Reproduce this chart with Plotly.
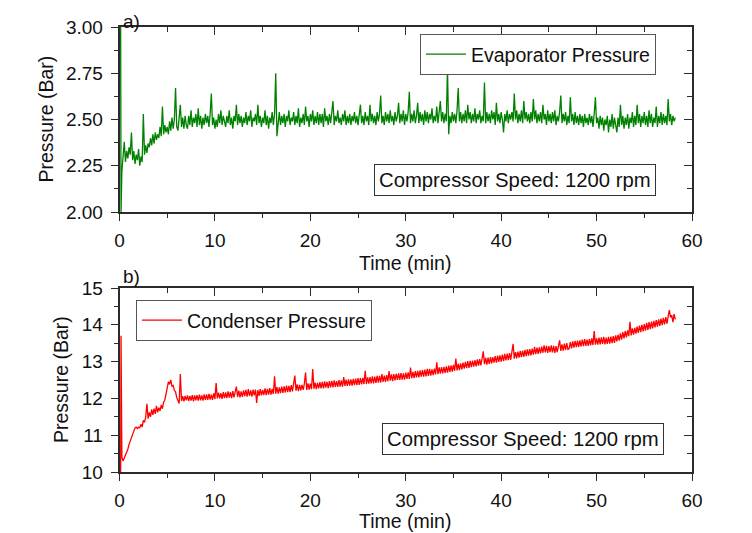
import plotly.graph_objects as go

W, H = 752, 533

# ---------------- data ----------------
sample_step = 0.125  # min, sampling interval of the logged data
start_time = [0.12, 0.16]
evap_start = [3.00, 2.00]
cond_start = [10.00, 13.70]

# Evaporator pressure (bar), t = 0.25 ... 58.25 min, 8 samples per minute (one row per minute)
evaporator_pressure = [
          2.22, 2.31, 2.38, 2.27, 2.33, 2.29, 2.35,
    2.31, 2.43, 2.28, 2.33, 2.26, 2.31, 2.28, 2.34,
    2.25, 2.30, 2.27, 2.53, 2.31, 2.36, 2.32, 2.37,
    2.35, 2.40, 2.36, 2.42, 2.37, 2.43, 2.39, 2.42,
    2.40, 2.46, 2.41, 2.57, 2.42, 2.47, 2.43, 2.46,
    2.42, 2.49, 2.44, 2.51, 2.45, 2.50, 2.67, 2.46,
    2.44, 2.50, 2.58, 2.46, 2.51, 2.45, 2.52, 2.47,
    2.45, 2.52, 2.47, 2.55, 2.46, 2.51, 2.48, 2.53,
    2.46, 2.56, 2.47, 2.52, 2.45, 2.51, 2.47, 2.53,
    2.48, 2.52, 2.46, 2.53, 2.64, 2.47, 2.51, 2.45,
    2.50, 2.46, 2.53, 2.48, 2.55, 2.47, 2.52, 2.49,
    2.46, 2.52, 2.48, 2.55, 2.47, 2.51, 2.45, 2.52,
    2.49, 2.58, 2.47, 2.53, 2.48, 2.52, 2.46, 2.51,
    2.48, 2.54, 2.47, 2.52, 2.49, 2.55, 2.46, 2.51,
    2.49, 2.53, 2.47, 2.58, 2.48, 2.52, 2.46, 2.51,
    2.48, 2.55, 2.47, 2.52, 2.45, 2.51, 2.48, 2.54,
    2.47, 2.53, 2.75, 2.41, 2.50, 2.54, 2.47, 2.52,
    2.48, 2.53, 2.46, 2.52, 2.49, 2.55, 2.47, 2.51,
    2.49, 2.54, 2.47, 2.52, 2.48, 2.56, 2.46, 2.51,
    2.48, 2.53, 2.47, 2.57, 2.49, 2.52, 2.46, 2.53,
    2.49, 2.55, 2.47, 2.52, 2.48, 2.54, 2.47, 2.53,
    2.48, 2.53, 2.46, 2.56, 2.49, 2.52, 2.47, 2.53,
    2.48, 2.54, 2.60, 2.47, 2.52, 2.49, 2.55, 2.48,
    2.51, 2.47, 2.53, 2.49, 2.55, 2.47, 2.52, 2.48,
    2.53, 2.47, 2.52, 2.49, 2.54, 2.48, 2.52, 2.47,
    2.53, 2.58, 2.48, 2.52, 2.47, 2.54, 2.49, 2.52,
    2.47, 2.58, 2.49, 2.53, 2.48, 2.52, 2.47, 2.54,
    2.49, 2.53, 2.63, 2.48, 2.52, 2.47, 2.54, 2.49,
    2.53, 2.48, 2.55, 2.49, 2.52, 2.47, 2.54, 2.49,
    2.52, 2.59, 2.48, 2.53, 2.49, 2.55, 2.47, 2.53,
    2.49, 2.54, 2.65, 2.48, 2.53, 2.49, 2.55, 2.48,
    2.52, 2.59, 2.48, 2.54, 2.49, 2.53, 2.47, 2.55,
    2.49, 2.54, 2.48, 2.53, 2.50, 2.56, 2.48, 2.52,
    2.49, 2.57, 2.48, 2.53, 2.60, 2.49, 2.54, 2.48,
    2.53, 2.49, 2.78, 2.42, 2.52, 2.48, 2.54, 2.49,
    2.53, 2.48, 2.55, 2.67, 2.49, 2.54, 2.48, 2.53,
    2.49, 2.55, 2.48, 2.58, 2.50, 2.54, 2.48, 2.53,
    2.49, 2.56, 2.48, 2.53, 2.50, 2.55, 2.48, 2.52,
    2.49, 2.70, 2.48, 2.54, 2.49, 2.53, 2.48, 2.55,
    2.50, 2.54, 2.47, 2.59, 2.49, 2.53, 2.48, 2.54,
    2.50, 2.43, 2.53, 2.49, 2.55, 2.48, 2.53, 2.50,
    2.54, 2.49, 2.64, 2.50, 2.55, 2.48, 2.53, 2.49,
    2.55, 2.48, 2.60, 2.50, 2.54, 2.49, 2.53, 2.48,
    2.54, 2.49, 2.61, 2.50, 2.55, 2.48, 2.53, 2.49,
    2.54, 2.48, 2.58, 2.50, 2.53, 2.47, 2.55, 2.49,
    2.53, 2.48, 2.54, 2.49, 2.55, 2.47, 2.52, 2.49,
    2.54, 2.63, 2.48, 2.53, 2.49, 2.54, 2.47, 2.52,
    2.48, 2.62, 2.49, 2.53, 2.47, 2.54, 2.48, 2.52,
    2.47, 2.53, 2.48, 2.52, 2.46, 2.53, 2.48, 2.51,
    2.47, 2.53, 2.48, 2.52, 2.46, 2.53, 2.62, 2.48,
    2.51, 2.45, 2.52, 2.47, 2.51, 2.44, 2.50, 2.47,
    2.52, 2.43, 2.50, 2.46, 2.53, 2.45, 2.51, 2.47,
    2.43, 2.51, 2.46, 2.58, 2.47, 2.52, 2.45, 2.51,
    2.47, 2.53, 2.45, 2.51, 2.48, 2.54, 2.46, 2.52,
    2.47, 2.58, 2.48, 2.53, 2.46, 2.52, 2.48, 2.54,
    2.47, 2.52, 2.46, 2.55, 2.48, 2.53, 2.46, 2.51,
    2.48, 2.57, 2.46, 2.52, 2.48, 2.54, 2.47, 2.53,
    2.48, 2.52, 2.47, 2.61, 2.49, 2.53, 2.47, 2.52,
    2.49, 2.51,
]

# Condenser pressure (bar), t = 0.25 ... 58.25 min, 8 samples per minute
condenser_pressure = [
           10.40, 10.30, 10.38, 10.45, 10.55, 10.62, 10.75,
    10.85, 10.95, 11.05, 11.15, 11.20, 11.22, 11.18, 11.22,
    11.20, 11.30, 11.22, 11.40, 11.35, 11.50, 11.85, 11.45,
    11.62, 11.50, 11.70, 11.55, 11.72, 11.58, 11.80, 11.62,
    11.75, 11.66, 11.82, 11.72, 11.90, 11.95, 12.12, 12.30,
    12.45, 12.38, 12.50, 12.33, 12.35, 12.22, 12.18, 12.02,
    11.92, 11.86, 12.66, 11.93, 12.06, 11.92, 12.07, 11.95,
    12.08, 11.93, 12.07, 11.94, 12.09, 11.92, 12.08, 11.95,
    12.09, 11.94, 12.10, 11.95, 12.08, 11.94, 12.11, 11.96,
    12.11, 11.96, 12.12, 11.97, 12.10, 11.96, 12.14, 11.98,
    12.42, 12.00, 12.16, 12.00, 12.14, 11.99, 12.17, 12.01,
    12.16, 12.01, 12.19, 12.02, 12.17, 12.01, 12.20, 12.03,
    12.18, 12.32, 12.04, 12.21, 12.03, 12.19, 12.04, 12.22,
    12.06, 12.23, 12.05, 12.25, 12.07, 12.22, 12.05, 12.24,
    12.08, 12.24, 11.88, 12.23, 12.07, 12.25, 12.08, 12.23,
    12.09, 12.27, 12.09, 12.26, 12.10, 12.28, 12.10, 12.26,
    12.12, 12.60, 12.13, 12.31, 12.13, 12.30, 12.14, 12.32,
    12.15, 12.33, 12.16, 12.35, 12.17, 12.34, 12.17, 12.36,
    12.19, 12.37, 12.62, 12.21, 12.38, 12.20, 12.37, 12.22,
    12.37, 12.23, 12.40, 12.70, 12.23, 12.41, 12.24, 12.40,
    12.25, 12.80, 12.26, 12.43, 12.25, 12.42, 12.27, 12.44,
    12.27, 12.45, 12.27, 12.46, 12.29, 12.45, 12.28, 12.47,
    12.30, 12.48, 12.30, 12.49, 12.31, 12.47, 12.31, 12.50,
    12.32, 12.49, 12.32, 12.58, 12.34, 12.51, 12.34, 12.52,
    12.35, 12.52, 12.35, 12.53, 12.36, 12.54, 12.36, 12.55,
    12.37, 12.55, 12.38, 12.56, 12.39, 12.75, 12.39, 12.57,
    12.40, 12.58, 12.41, 12.60, 12.41, 12.59, 12.42, 12.61,
    12.43, 12.61, 12.43, 12.66, 12.45, 12.62, 12.45, 12.63,
    12.46, 12.74, 12.48, 12.65, 12.47, 12.66, 12.49, 12.67,
    12.50, 12.68, 12.50, 12.69, 12.51, 12.68, 12.51, 12.70,
    12.53, 12.71, 12.53, 12.84, 12.55, 12.72, 12.55, 12.74,
    12.57, 12.75, 12.57, 12.76, 12.59, 12.77, 12.59, 12.78,
    12.60, 12.80, 12.61, 12.80, 12.62, 12.79, 12.63, 12.81,
    12.65, 12.98, 12.66, 12.84, 12.67, 12.85, 12.68, 12.86,
    12.69, 12.87, 12.70, 12.89, 12.72, 12.90, 12.73, 12.91,
    12.75, 13.08, 12.76, 12.94, 12.77, 12.95, 12.79, 12.97,
    12.81, 12.99, 12.82, 13.01, 12.83, 13.02, 12.85, 13.03,
    12.86, 13.04, 12.87, 13.06, 12.89, 13.07, 12.90, 13.08,
    13.28, 12.93, 13.10, 12.92, 13.11, 12.94, 13.12, 12.95,
    13.12, 12.97, 13.15, 12.97, 13.16, 12.99, 13.17, 13.00,
    13.19, 13.01, 13.21, 13.03, 13.22, 13.04, 13.23, 13.05,
    13.24, 13.48, 13.08, 13.26, 13.09, 13.27, 13.11, 13.29,
    13.12, 13.30, 13.13, 13.32, 13.15, 13.33, 13.16, 13.34,
    13.17, 13.35, 13.19, 13.40, 13.20, 13.38, 13.21, 13.39,
    13.22, 13.41, 13.24, 13.44, 13.25, 13.43, 13.24, 13.42,
    13.26, 13.44, 13.25, 13.43, 13.24, 13.42, 13.26, 13.45,
    13.58, 13.29, 13.47, 13.30, 13.49, 13.32, 13.50, 13.33,
    13.35, 13.53, 13.36, 13.55, 13.38, 13.56, 13.39, 13.57,
    13.40, 13.58, 13.41, 13.60, 13.42, 13.61, 13.43, 13.60,
    13.43, 13.61, 13.44, 13.63, 13.45, 13.83, 13.46, 13.63,
    13.46, 13.65, 13.47, 13.66, 13.48, 13.67, 13.47, 13.65,
    13.48, 13.67, 13.49, 13.68, 13.50, 13.69, 13.51, 13.71,
    13.55, 13.73, 13.57, 13.77, 13.60, 13.80, 13.63, 13.83,
    13.66, 13.85, 13.69, 14.08, 13.71, 13.90, 13.73, 13.92,
    13.76, 13.95, 13.78, 13.98, 13.80, 14.00, 13.82, 14.02,
    13.84, 14.05, 13.86, 14.07, 13.88, 14.09, 13.90, 14.11,
    13.93, 14.13, 13.95, 14.15, 13.97, 14.17, 13.99, 14.19,
    14.01, 14.21, 14.03, 14.23, 14.40, 14.20, 14.26, 14.07,
    14.29, 14.15,
]

time_grid = [round(sample_step * (k + 2), 3) for k in range(len(evaporator_pressure))]
time_evap = start_time + time_grid
time_cond = start_time + time_grid
evap = evap_start + evaporator_pressure
cond = cond_start + condenser_pressure

x_ticks = [0, 10, 20, 30, 40, 50, 60]
evap_ticks = [2.00, 2.25, 2.50, 2.75, 3.00]
cond_ticks = [10, 11, 12, 13, 14, 15]

# ---------------- layout helpers ----------------
OFF = 8  # page offset of the plot div

def px_x(p):
    return (p - OFF) / W

def px_y(p):
    return 1 - (p - OFF) / H

FONT = "Liberation Sans, Arial, sans-serif"
LINE = "#2b2b2b"
FS = 19.5
TFS = 19

x_dom = [px_x(119.5), px_x(692)]
y1_dom = [px_y(212), px_y(27)]
y2_dom = [px_y(472), px_y(288)]

fig = go.Figure()
fig.add_trace(go.Scatter(x=time_evap, y=evap, mode="lines", name="Evaporator Pressure",
                         line=dict(color="#008000", width=1.3), xaxis="x", yaxis="y",
                         legend="legend"))
fig.add_trace(go.Scatter(x=time_cond, y=cond, mode="lines", name="Condenser Pressure",
                         line=dict(color="#FF0000", width=1.3), xaxis="x2", yaxis="y2",
                         legend="legend2"))
# transparent copies that bind the mirrored (inward-tick) frame axes
fig.add_trace(go.Scatter(x=time_evap, y=evap, mode="lines", opacity=0, showlegend=False,
                         hoverinfo="skip", line=dict(width=0.1), xaxis="x3", yaxis="y3"))
fig.add_trace(go.Scatter(x=time_cond, y=cond, mode="lines", opacity=0, showlegend=False,
                         hoverinfo="skip", line=dict(width=0.1), xaxis="x4", yaxis="y4"))

def main_x(anchor):
    return dict(domain=x_dom, anchor=anchor, range=[0, 60], tickvals=x_ticks,
                ticks="outside", ticklen=7, tickwidth=1.3, tickcolor=LINE,
                minor=dict(dtick=5, tick0=0, ticks="outside", ticklen=4, tickcolor=LINE, tickwidth=1.3),
                showline=True, linecolor=LINE, linewidth=1.6, mirror=True,
                showgrid=False, zeroline=False, ticklabelstandoff=3, automargin=False,
                tickfont=dict(family=FONT, size=TFS, color="#111"))

def main_y(anchor, dom, rng, tv, minor_dt, fmt):
    return dict(domain=dom, anchor=anchor, range=rng, tickvals=tv, tickformat=fmt,
                ticks="outside", ticklen=7, tickwidth=1.3, tickcolor=LINE,
                minor=dict(dtick=minor_dt, tick0=rng[0], ticks="outside", ticklen=4, tickcolor=LINE, tickwidth=1.3),
                showline=True, linecolor=LINE, linewidth=1.6, mirror=True,
                showgrid=False, zeroline=False, ticklabelstandoff=4, automargin=False,
                tickfont=dict(family=FONT, size=TFS, color="#111"))

def inner_x(over, anchor):
    return dict(overlaying=over, anchor=anchor, side="top", range=[0, 60], tickvals=x_ticks,
                ticks="inside", ticklen=8, tickwidth=1.4, tickcolor=LINE,
                minor=dict(dtick=5, tick0=0, ticks="inside", ticklen=5, tickcolor=LINE, tickwidth=1.4),
                showticklabels=False, showline=False, showgrid=False, zeroline=False,
                automargin=False)

def inner_y(over, anchor, rng, tv, minor_dt):
    return dict(overlaying=over, anchor=anchor, side="right", range=rng, tickvals=tv,
                ticks="inside", ticklen=8, tickwidth=1.4, tickcolor=LINE,
                minor=dict(dtick=minor_dt, tick0=rng[0], ticks="inside", ticklen=5, tickcolor=LINE, tickwidth=1.4),
                showticklabels=False, showline=False, showgrid=False, zeroline=False,
                automargin=False)

fig.update_layout(
    width=W, height=H,
    margin=dict(l=0, r=0, t=0, b=0, autoexpand=False),
    paper_bgcolor="white", plot_bgcolor="white",
    xaxis=main_x("y"),
    yaxis=main_y("x", y1_dom, [2, 3], evap_ticks, 0.125, ".2f"),
    xaxis2=main_x("y2"),
    yaxis2=main_y("x2", y2_dom, [10, 15], cond_ticks, 0.5, "d"),
    xaxis3=inner_x("x", "y"),
    yaxis3=inner_y("y", "x", [2, 3], evap_ticks, 0.125),
    xaxis4=inner_x("x2", "y2"),
    yaxis4=inner_y("y2", "x2", [10, 15], cond_ticks, 0.5),
    legend=dict(x=px_x(420), y=px_y(34), xanchor="left", yanchor="top",
                bordercolor="#555", borderwidth=1, bgcolor="white",
                font=dict(family=FONT, size=FS, color="#111"),
                itemwidth=40, tracegroupgap=0),
    legend2=dict(x=px_x(136), y=px_y(300), xanchor="left", yanchor="top",
                 bordercolor="#555", borderwidth=1, bgcolor="white",
                 font=dict(family=FONT, size=FS, color="#111"),
                 itemwidth=40, tracegroupgap=0),
    showlegend=True,
)

ann_font = dict(family=FONT, size=FS, color="#111")
lbl_font = dict(family=FONT, size=19, color="#111")
box_font = dict(family=FONT, size=20.3, color="#111")
annotations = [
    dict(text="Pressure (Bar)", x=px_x(45), y=px_y(119.5), textangle=-90, font=ann_font),
    dict(text="Pressure (Bar)", x=px_x(61), y=px_y(380), textangle=-90, font=ann_font),
    dict(text="Time (min)", x=px_x(405), y=px_y(263), font=ann_font),
    dict(text="Time (min)", x=px_x(405), y=px_y(521), font=ann_font),
    dict(text="a)", x=px_x(131), y=px_y(21.5), font=lbl_font),
    dict(text="b)", x=px_x(131), y=px_y(276), font=lbl_font),
    dict(text="Compressor Speed: 1200 rpm", x=px_x(515.5), y=px_y(180), font=box_font,
         bordercolor="#333", borderwidth=1, borderpad=4, bgcolor="white"),
    dict(text="Compressor Speed: 1200 rpm", x=px_x(523), y=px_y(439), font=box_font,
         bordercolor="#333", borderwidth=1, borderpad=4, bgcolor="white"),
]
for a in annotations:
    a.update(xref="paper", yref="paper", showarrow=False, xanchor="center", yanchor="middle")
fig.update_layout(annotations=annotations)

fig.write_html("out.html")
